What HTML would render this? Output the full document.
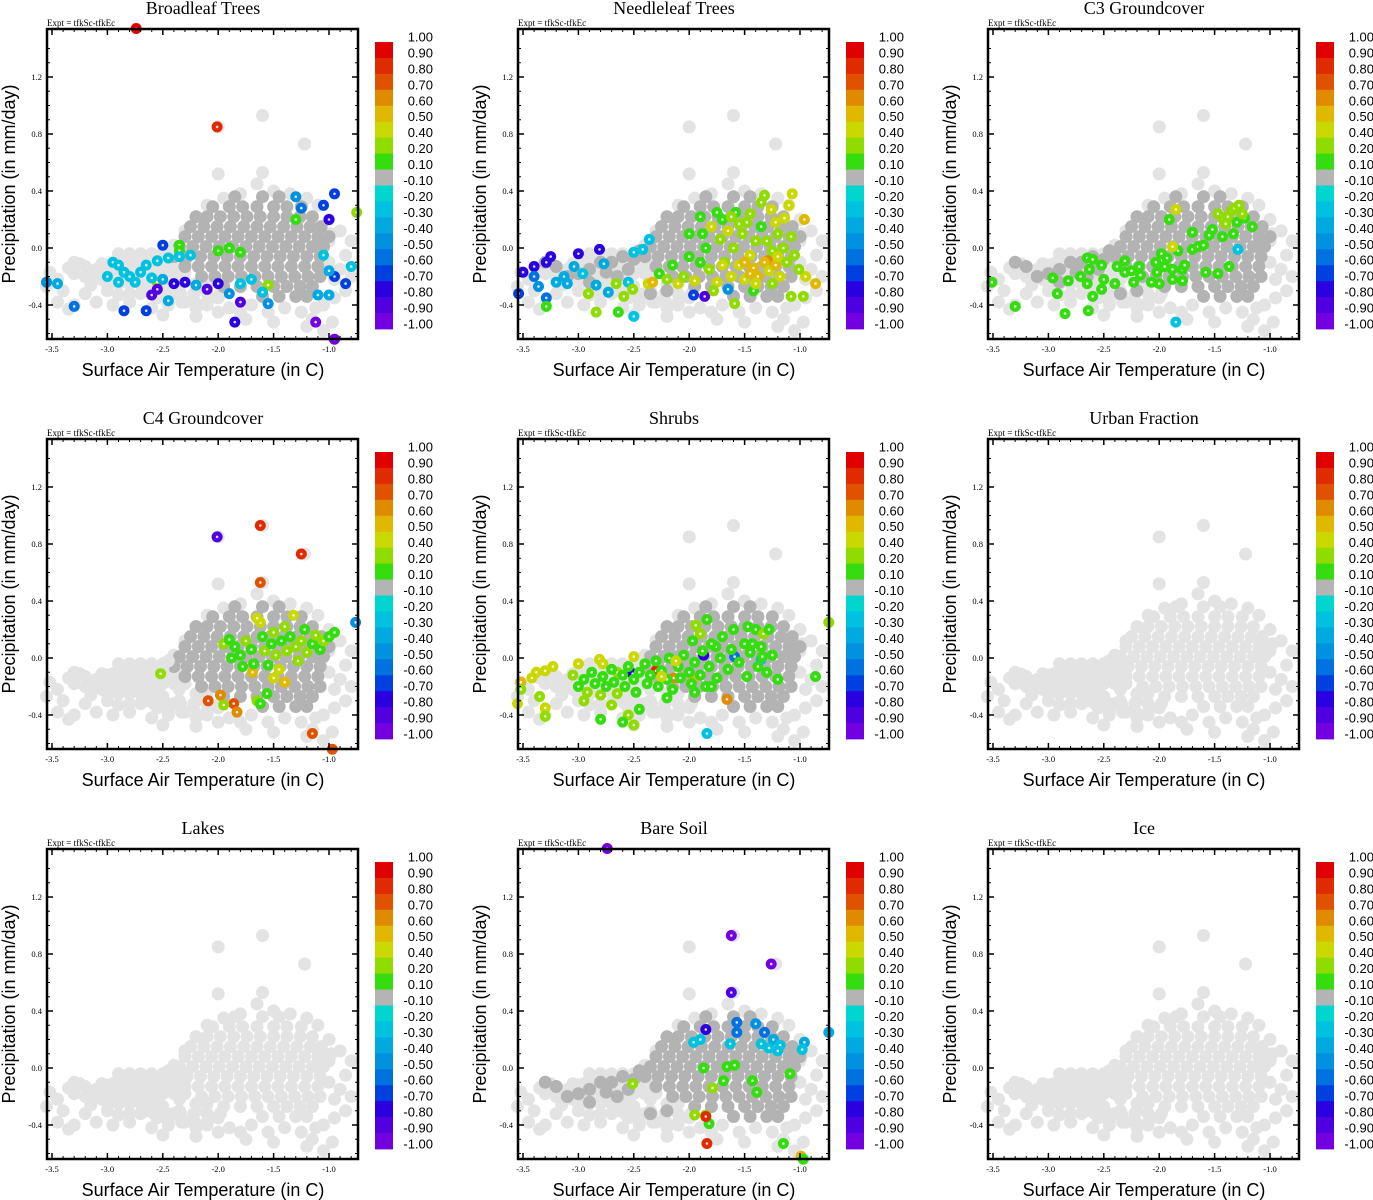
<!DOCTYPE html>
<html><head><meta charset="utf-8">
<style>
html,body{margin:0;padding:0;background:#fff;}
svg{display:block;}
.t{font-family:"Liberation Serif",serif;}
.s{font-family:"Liberation Sans",sans-serif;}
</style></head>
<body>
<svg id="fig" width="1373" height="1200" viewBox="0 0 1373 1200" xmlns="http://www.w3.org/2000/svg"></svg>
<script>
const panelTitles=["Broadleaf Trees","Needleleaf Trees","C3 Groundcover","C4 Groundcover","Shrubs","Urban Fraction","Lakes","Bare Soil","Ice"];
const xTicks=[-3.5,-3.0,-2.5,-2.0,-1.5,-1.0];
const xTickLabels=["-3.5","-3.0","-2.5","-2.0","-1.5","-1.0"];
const yTicks=[-0.4,0.0,0.4,0.8,1.2];
const yTickLabels=["-0.4","0.0","0.4","0.8","1.2"];
const cbBounds=[1.0,0.9,0.8,0.7,0.6,0.5,0.4,0.2,0.1,-0.1,-0.2,-0.3,-0.4,-0.5,-0.6,-0.7,-0.8,-0.9,-1.0];
const cbLabels=["1.00","0.90","0.80","0.70","0.60","0.50","0.40","0.20","0.10","-0.10","-0.20","-0.30","-0.40","-0.50","-0.60","-0.70","-0.80","-0.90","-1.00"];
const cbColors=["#e00000","#e02a00","#e05200","#e08a00","#e0b800","#cad800","#90dc00","#34dc10","#b4b4b4","#00d6d0","#00c2e0","#00aae0","#0092e0","#0072e0","#0040e0","#2a00e0","#5000e0","#7200e0"];
// light gray cloud (all points)
const cloudPts=[[-3.52,-0.17],[-3.45,-0.22],[-3.4,-0.3],[-3.35,-0.14],[-3.3,-0.18],[-3.25,-0.11],[-3.2,-0.2],[-3.15,-0.26],[-3.1,-0.15],[-3.05,-0.22],[-3.0,-0.3],[-3.0,-0.12],[-2.95,-0.18],[-2.9,-0.25],[-2.85,-0.08],[-2.85,-0.2],[-2.8,-0.32],[-2.75,-0.14],[-2.7,-0.22],[-2.7,-0.05],[-2.65,-0.3],[-2.6,-0.12],[-2.55,-0.2],[-2.55,-0.35],[-2.5,-0.05],[-2.5,-0.27],[-2.45,-0.15],[-2.4,-0.32],[-2.4,0.02],[-2.35,-0.22],[-3.45,-0.38],[-3.3,-0.4],[-3.1,-0.38],[-2.95,-0.4],[-2.8,-0.38],[-2.6,-0.42],[-2.45,-0.4],[-2.3,-0.38],[-2.2,-0.42],[-2.1,-0.4],[-2.0,-0.45],[-1.9,-0.42],[-1.8,-0.45],[-1.7,-0.4],[-1.55,-0.45],[-1.4,-0.42],[-1.25,-0.45],[-1.15,-0.5],[-1.05,-0.4],[-0.95,-0.35],[-0.85,-0.3],[-0.9,-0.15],[-0.85,-0.05],[-0.8,0.05],[-0.9,0.12],[-1.0,0.2],[-1.1,0.3],[-1.2,0.35],[-1.35,0.38],[-1.5,0.4],[-1.65,0.45],[-1.8,0.38],[-1.95,0.35],[-2.1,0.3],[-2.2,0.22],[-2.3,0.12],[-1.6,0.53],[-2.0,0.52],[-1.6,0.93],[-2.0,0.85],[-1.22,0.73],[-1.75,-0.5],[-1.5,-0.52],[-1.2,-0.55],[-1.05,-0.58],[-2.2,-0.48],[-2.5,-0.47],[-3.35,-0.43],[-3.55,-0.27],[-3.2,-0.32],[-2.9,-0.33],[-2.35,-0.3],[-2.0,-0.35],[-0.95,-0.22],[-0.8,-0.2],[-1.0,0.05],[-1.0,-0.1],[-0.98,0.1],[-1.12,-0.42],[-0.97,-0.52]];
// dense tail band rows of [y, xs]
const tailRows=[[-0.04,[-2.9,-2.8,-2.7,-2.6,-2.5,-2.4,-2.3]],[-0.11,[-3.05,-2.95,-2.85,-2.75,-2.65,-2.55,-2.45,-2.35]],[-0.18,[-3.1,-3.0,-2.9,-2.8,-2.7,-2.6,-2.5,-2.4,-2.3]],[-0.25,[-3.0,-2.9,-2.8,-2.7,-2.6,-2.2,-2.1]],[-0.32,[-2.7,-2.58,-2.46,-2.34,-2.22,-2.1,-1.98]],[-0.38,[-2.45,-2.33,-2.21,-2.1]]];
// dense core cloud, rows of [y, xs]
const coreRows=[[0.36,[-1.85,-1.6,-1.45]],[0.29,[-2.05,-1.9,-1.78,-1.65,-1.5,-1.38,-1.25]],[0.22,[-2.2,-2.1,-1.98,-1.86,-1.74,-1.62,-1.5,-1.38,-1.26,-1.15]],[0.15,[-2.25,-2.13,-2.01,-1.89,-1.77,-1.65,-1.53,-1.41,-1.29,-1.17,-1.07]],[0.08,[-2.3,-2.18,-2.06,-1.94,-1.82,-1.7,-1.58,-1.46,-1.34,-1.22,-1.1,-1.0]],[0.01,[-2.35,-2.23,-2.11,-1.99,-1.87,-1.75,-1.63,-1.51,-1.39,-1.27,-1.15,-1.05]],[-0.06,[-2.4,-2.28,-2.16,-2.04,-1.92,-1.8,-1.68,-1.56,-1.44,-1.32,-1.2,-1.08]],[-0.13,[-2.3,-2.18,-2.06,-1.94,-1.82,-1.7,-1.58,-1.46,-1.34,-1.22,-1.1]],[-0.2,[-2.15,-2.03,-1.91,-1.79,-1.67,-1.55,-1.43,-1.31,-1.19,-1.08]],[-0.27,[-1.95,-1.8,-1.65,-1.5,-1.38,-1.26,-1.15]],[-0.34,[-1.6,-1.45,-1.3,-1.2]]];
const tailPts=[[-3.0,-0.18],[-2.9,-0.15],[-2.8,-0.1],[-2.7,-0.1],[-2.6,-0.06],[-2.5,-0.08],[-2.45,-0.02],[-2.65,-0.2],[-2.9,-0.24],[-2.75,-0.17],[-2.55,-0.15],[-3.1,-0.2],[-3.2,-0.13],[-3.3,-0.1],[-2.35,-0.32],[-2.2,-0.3]];
// per-panel shading of core and tail (1 = dark gray, 0 = light gray)
const coreDark=[1,1,1,1,1,0,0,1,0];
const tailDark=[0,1,1,0,0,0,0,1,0];
const broadleafPts=[[-2.74,1.54,0.95],[-2.01,0.85,0.85],[-0.75,0.25,0.3],[-2.35,0.02,0.15],[-2.35,-0.02,0.15],[-2.0,-0.02,0.15],[-1.9,0.0,0.15],[-1.8,-0.03,0.15],[-1.3,0.2,0.15],[-2.55,-0.24,0.3],[-1.55,-0.26,0.3],[-0.95,0.38,-0.65],[-1.05,0.3,-0.6],[-1.3,0.36,-0.4],[-1.0,0.2,-0.7],[-1.25,0.28,-0.5],[-3.55,-0.24,-0.4],[-3.3,-0.41,-0.55],[-2.85,-0.44,-0.65],[-2.65,-0.44,-0.6],[-2.5,0.02,-0.6],[-2.5,-0.22,-0.35],[-2.45,-0.37,-0.3],[-2.6,-0.33,-0.85],[-2.55,-0.29,-0.85],[-2.1,-0.29,-0.85],[-1.8,-0.38,-0.8],[-1.85,-0.52,-0.7],[-1.12,-0.52,-0.95],[-0.95,-0.64,-0.95],[-2.0,-0.25,-0.75],[-2.4,-0.25,-0.7],[-2.3,-0.24,-0.7],[-2.2,-0.26,-0.35],[-1.55,-0.39,-0.4],[-1.6,-0.31,-0.25],[-1.9,-0.32,-0.4],[-0.85,-0.25,-0.65],[-0.95,-0.2,-0.6],[-1.0,-0.16,-0.35],[-1.0,-0.33,-0.35],[-1.05,-0.05,-0.25],[-0.8,-0.13,-0.25],[-1.1,-0.33,-0.35],[-2.95,-0.1,-0.25],[-2.9,-0.12,-0.25],[-2.85,-0.17,-0.25],[-3.0,-0.2,-0.25],[-2.8,-0.2,-0.25],[-2.7,-0.17,-0.25],[-2.65,-0.12,-0.25],[-2.55,-0.09,-0.25],[-2.45,-0.07,-0.25],[-2.35,-0.06,-0.25],[-2.25,-0.05,-0.25],[-2.75,-0.24,-0.25],[-2.9,-0.24,-0.25],[-2.6,-0.21,-0.25],[-1.7,-0.22,-0.25],[-1.8,-0.25,-0.25],[-3.45,-0.25,-0.3]];
const needlePts=[[-3.5,-0.17,-0.7],[-3.4,-0.13,-0.7],[-3.29,-0.1,-0.7],[-3.25,-0.06,-0.7],[-3.0,-0.04,-0.7],[-2.81,-0.01,-0.7],[-3.54,-0.32,-0.6],[-3.4,-0.2,-0.55],[-3.36,-0.27,-0.4],[-3.29,-0.35,-0.55],[-3.29,-0.41,0.15],[-3.2,-0.24,-0.35],[-3.13,-0.2,-0.35],[-3.1,-0.25,-0.35],[-3.04,-0.13,-0.3],[-2.96,-0.18,-0.25],[-2.77,-0.11,-0.35],[-2.84,-0.26,-0.3],[-2.73,-0.31,-0.3],[-2.5,-0.48,-0.25],[-2.55,-0.24,-0.25],[-2.5,-0.03,-0.25],[-2.42,-0.01,-0.25],[-2.36,0.06,-0.25],[-1.96,-0.33,-0.6],[-1.86,-0.34,-0.8],[-1.65,-0.29,-0.45],[-2.91,-0.32,0.3],[-2.84,-0.45,0.3],[-2.64,-0.45,0.15],[-2.66,-0.25,0.3],[-2.59,-0.34,0.3],[-2.51,-0.29,0.3],[-2.37,-0.25,0.45],[-2.33,-0.24,0.55],[-1.07,0.38,0.5],[-1.1,0.3,0.5],[-0.96,0.2,0.6],[-0.86,-0.25,0.6],[-0.95,-0.2,0.5],[-1.01,-0.15,0.3],[-1.08,-0.34,0.3],[-0.97,-0.34,0.3],[-1.59,-0.39,0.3],[-1.42,-0.3,0.15],[-1.32,0.37,0.4],[-1.35,0.32,0.3],[-1.26,0.27,0.5],[-1.22,0.18,0.5],[-1.14,0.21,0.5],[-1.29,-0.09,0.7],
[-2.27,-0.18,0.15],[-2.2,-0.22,0.3],[-2.15,-0.12,0.15],[-2.1,-0.25,0.45],[-2.05,-0.2,0.3],[-2.0,-0.06,0.15],[-1.95,-0.23,0.45],[-1.9,0.22,0.15],[-1.88,0.1,0.15],[-1.85,0.0,0.15],[-1.82,-0.15,0.3],[-1.8,0.15,0.45],[-1.75,-0.24,0.45],[-1.72,0.06,0.3],[-1.7,0.2,0.15],[-1.68,-0.1,0.3],[-1.65,0.12,0.45],[-1.62,-0.2,0.5],[-1.6,0.0,0.3],[-1.58,0.25,0.15],[-1.55,-0.12,0.5],[-1.52,0.1,0.3],[-1.5,-0.22,0.45],[-1.48,0.18,0.4],[-1.45,-0.05,0.45],[-1.42,-0.14,0.55],[-1.4,0.05,0.3],[-1.38,-0.2,0.55],[-1.35,0.15,0.15],[-1.32,-0.1,0.55],[-1.3,0.05,0.3],[-1.28,-0.16,0.5],[-1.25,-0.02,0.4],[-1.22,-0.12,0.55],[-1.2,0.1,0.3],[-1.18,-0.2,0.45],[-1.15,0.0,0.3],[-1.12,-0.1,0.4],[-1.08,0.08,0.3],[-1.05,-0.05,0.4],[-1.75,0.25,0.15],[-1.62,0.22,0.3],[-1.55,0.17,0.4],[-1.45,0.24,0.3],[-1.9,-0.1,0.15],[-2.0,0.1,0.15],[-1.78,-0.3,0.3],[-1.7,-0.12,0.5],[-1.5,-0.1,0.6],[-1.45,-0.18,0.55],[-1.4,-0.25,0.45],[-1.25,-0.25,0.3],[-1.2,-0.06,0.5]];
const c3Pts=[[-3.51,-0.24,0.15],[-3.3,-0.41,0.15],[-2.85,-0.46,0.15],[-2.64,-0.44,0.15],[-2.92,-0.32,0.15],[-2.96,-0.21,0.15],[-2.82,-0.23,0.15],[-2.71,-0.2,0.15],[-2.65,-0.25,0.15],[-2.65,-0.07,0.15],[-2.6,-0.08,0.15],[-2.63,-0.15,0.15],[-2.52,-0.12,0.15],[-2.6,-0.34,0.15],[-2.52,-0.29,0.15],[-2.5,-0.22,0.15],[-2.4,-0.25,0.15],[-2.38,-0.13,0.15],[-2.31,-0.09,0.15],[-2.31,-0.17,0.15],[-2.25,-0.16,0.15],[-2.23,-0.24,0.15],[-2.18,-0.13,0.15],[-2.17,-0.19,0.15],[-2.07,-0.24,0.15],[-2.03,-0.1,0.15],[-2.02,-0.17,0.15],[-2.0,-0.25,0.15],[-1.98,-0.04,0.15],[-1.95,-0.13,0.15],[-1.93,-0.07,0.15],[-1.91,0.2,0.15],[-1.88,-0.22,0.15],[-1.88,-0.15,0.15],[-1.83,-0.02,0.15],[-1.79,-0.23,0.15],[-1.79,-0.15,0.15],[-1.77,-0.12,0.15],[-1.7,0.11,0.15],[-1.7,-0.01,0.15],[-1.65,0.01,0.15],[-1.6,0.02,0.15],[-1.58,-0.17,0.15],[-1.55,0.09,0.15],[-1.52,0.13,0.15],[-1.47,-0.18,0.15],[-1.43,0.08,0.15],[-1.37,-0.13,0.15],[-1.33,0.1,0.15],[-1.3,0.18,0.15],[-1.23,0.21,0.15],[-1.16,0.15,0.15],[-1.47,0.24,0.3],[-1.42,0.2,0.3],[-1.38,0.22,0.3],[-1.35,0.26,0.3],[-1.32,0.28,0.3],[-1.28,0.3,0.3],[-1.25,0.24,0.3],[-1.4,0.17,0.3],[-1.85,0.27,0.45],[-1.88,0.01,0.45],[-1.85,-0.52,-0.25],[-1.29,-0.01,-0.25]];
const c4Pts=[[-2.01,0.85,-0.8],[-1.62,0.93,0.9],[-1.25,0.73,0.85],[-1.62,0.53,0.75],[-0.76,0.25,-0.4],[-2.09,-0.3,0.75],[-1.98,-0.26,0.65],[-1.86,-0.32,0.8],[-1.83,-0.38,0.65],[-1.95,-0.33,0.3],[-1.69,-0.1,0.6],[-1.4,-0.17,0.6],[-1.65,-0.3,0.3],[-1.62,-0.32,0.15],[-1.56,-0.25,0.15],[-1.15,-0.53,0.75],[-0.97,-0.64,0.75],[-2.52,-0.11,0.3],
[-1.95,0.1,0.3],[-1.9,0.13,0.15],[-1.85,0.08,0.15],[-1.88,0.0,0.15],[-1.8,0.02,0.15],[-1.75,0.12,0.3],[-1.7,0.06,0.15],[-1.68,-0.04,0.15],[-1.62,0.25,0.45],[-1.6,0.15,0.15],[-1.58,0.05,0.3],[-1.55,-0.05,0.15],[-1.52,0.1,0.15],[-1.5,0.18,0.3],[-1.48,0.02,0.3],[-1.45,-0.08,0.45],[-1.43,0.12,0.15],[-1.4,0.22,0.3],[-1.38,0.05,0.3],[-1.35,0.15,0.15],[-1.32,0.3,0.45],[-1.3,0.08,0.4],[-1.28,-0.02,0.3],[-1.25,0.12,0.3],[-1.22,0.2,0.15],[-1.2,0.04,0.4],[-1.15,0.1,0.15],[-1.12,0.16,0.3],[-1.08,0.06,0.15],[-1.05,0.12,0.3],[-1.0,0.15,0.15],[-0.95,0.18,0.15],[-1.65,0.28,0.45],[-1.78,-0.06,0.15],[-1.5,-0.14,0.45]];
const shrubPts=[[-3.52,-0.17,0.6],[-3.55,-0.32,0.5],[-3.52,-0.22,0.3],[-3.42,-0.14,0.5],[-3.38,-0.1,0.5],[-3.3,-0.09,0.5],[-3.23,-0.06,0.5],[-3.35,-0.27,0.3],[-3.3,-0.35,0.45],[-3.3,-0.41,0.3],[-3.0,-0.04,0.5],[-2.81,-0.01,0.5],[-2.78,-0.04,0.5],[-2.65,-0.1,0.3],[-2.5,0.01,0.45],[-2.3,-0.09,0.85],[-2.14,-0.14,0.65],[-1.97,-0.16,0.55],[-1.66,-0.29,0.65],[-2.51,-0.11,-0.75],[-1.87,0.02,-0.7],[-1.59,0.01,-0.5],[-1.35,-0.01,-0.25],[-1.84,-0.53,-0.25],[-1.94,0.23,0.3],[-1.9,0.17,0.3],[-1.97,0.12,0.15],[-1.84,0.27,0.15],[-1.76,0.08,0.15],[-1.47,0.22,0.15],[-1.4,0.2,0.15],[-1.33,0.17,0.4],[-1.43,0.1,0.15],[-1.34,0.01,0.15],[-1.48,-0.13,0.15],[-0.86,-0.13,0.15],[-0.74,0.25,0.3],
[-3.05,-0.12,0.3],[-3.0,-0.2,0.15],[-2.95,-0.15,0.15],[-2.92,-0.24,0.3],[-2.88,-0.1,0.15],[-2.85,-0.18,0.15],[-2.8,-0.26,0.3],[-2.78,-0.13,0.15],[-2.75,-0.2,0.15],[-2.7,-0.08,0.15],[-2.68,-0.17,0.15],[-2.65,-0.25,0.3],[-2.6,-0.12,0.15],[-2.58,-0.2,0.15],[-2.55,-0.06,0.15],[-2.5,-0.15,0.15],[-2.48,-0.24,0.15],[-2.45,-0.1,0.15],[-2.4,-0.04,0.15],[-2.38,-0.18,0.15],[-2.35,-0.12,0.15],[-2.3,-0.02,0.15],[-2.28,-0.2,0.15],[-2.25,-0.09,0.15],[-2.2,-0.15,0.15],[-2.18,0.0,0.15],[-2.15,-0.22,0.15],[-2.1,-0.06,0.15],[-2.08,-0.14,0.15],[-2.05,0.02,0.15],[-2.0,-0.1,0.15],[-1.98,-0.18,0.15],[-1.95,-0.03,0.15],[-1.9,-0.12,0.15],[-1.88,0.05,0.15],[-1.85,-0.2,0.15],[-1.82,-0.06,0.15],[-1.8,0.1,0.15],[-1.75,-0.14,0.15],[-1.72,0.0,0.15],[-1.7,0.15,0.15],[-1.65,-0.08,0.15],[-1.62,0.06,0.15],[-1.6,0.2,0.15],[-1.55,-0.03,0.15],[-1.5,0.1,0.15],[-1.45,0.04,0.15],[-1.38,-0.06,0.15],[-1.35,0.08,0.15],[-1.3,-0.1,0.15],[-1.28,0.2,0.15],[-1.25,0.02,0.15],[-1.2,-0.15,0.15],[-2.95,-0.3,0.3],[-2.7,-0.33,0.3],[-2.55,-0.4,0.3],[-2.45,-0.36,0.15],[-2.2,-0.28,0.15],[-2.6,-0.45,0.15],[-2.5,-0.47,0.3],[-2.8,-0.43,0.15],[-1.95,-0.24,0.15],[-1.8,-0.2,0.15],[-2.25,-0.13,0.5],[-2.12,-0.02,0.45]];
const bareSoilPts=[[-2.74,1.54,-0.95],[-1.62,0.93,-0.95],[-1.26,0.73,-0.9],[-1.62,0.53,-0.8],[-1.85,0.27,-0.7],[-1.57,0.32,-0.55],[-1.57,0.25,-0.5],[-1.4,0.31,-0.45],[-1.32,0.25,-0.5],[-0.74,0.25,-0.3],[-1.96,0.18,-0.25],[-1.9,0.2,-0.25],[-1.63,0.17,-0.25],[-1.24,0.2,-0.35],[-1.28,0.14,-0.25],[-1.18,0.16,-0.25],[-0.96,0.18,-0.3],[-0.98,0.13,-0.25],[-1.35,0.17,-0.25],[-1.2,0.12,-0.25],[-1.87,0.0,0.15],[-1.66,0.01,0.15],[-1.59,0.02,0.15],[-1.69,-0.09,0.15],[-1.43,-0.09,0.15],[-1.39,-0.17,0.15],[-1.09,-0.04,0.15],[-2.51,-0.11,0.3],[-1.79,-0.14,0.3],[-1.95,-0.33,0.3],[-1.85,-0.33,0.3],[-1.82,-0.39,0.15],[-1.85,-0.34,0.85],[-1.84,-0.53,0.9],[-1.15,-0.53,0.15],[-0.99,-0.62,0.55],[-0.97,-0.64,0.15]];
const coloredSets=[broadleafPts,needlePts,c3Pts,c4Pts,shrubPts,[],[],bareSoilPts,[]];

const NS="http://www.w3.org/2000/svg";
const svg=document.getElementById('fig');
function el(tag,attrs,parent,txt){const e=document.createElementNS(NS,tag);for(const k in attrs)e.setAttribute(k,attrs[k]);if(txt!==undefined)e.textContent=txt;(parent||svg).appendChild(e);return e;}
function colorFor(v){for(let i=0;i<cbColors.length;i++){if(v<=cbBounds[i]&&v>cbBounds[i+1])return cbColors[i];}return v>0?cbColors[0]:cbColors[17];}
const LIGHT="#e3e3e3",DARK="#b3b3b3";

for(let p=0;p<9;p++){
  const c=p%3,r=Math.floor(p/3);
  const ox=Math.round(c*470.6),oy=r*410;
  const sx=x=>ox+52+(x+3.5)*110.8;
  const sy=y=>oy+248-y*142.5;
  const g=el('g',{});
  
  
  const tt=el('text',{x:ox+203,y:oy+14,'text-anchor':'middle','font-size':'18',class:'t'},g,panelTitles[p]);
  
  const ex=el('text',{x:ox+47,y:oy+26,'font-size':'9',class:'t'},g,'Expt = tfkSc-tfkEc');
  
  const pts=el('g',{},g);
  
  function gdot(x,y,col){
    const cc=el('circle',{cx:sx(x).toFixed(1),cy:sy(y).toFixed(1),r:6.5,fill:col},pts);
    
  }
  function dot(x,y,col){
    const cc=el('circle',{cx:sx(x).toFixed(1),cy:sy(y).toFixed(1),r:5.5,fill:col},pts);
    
    el('circle',{cx:sx(x).toFixed(1),cy:sy(y).toFixed(1),r:1.3,fill:'#fff','fill-opacity':0.85},pts);
  }
  cloudPts.forEach(q=>gdot(q[0],q[1],LIGHT));
  tailRows.forEach(row=>row[1].forEach(x=>gdot(x,row[0],LIGHT)));
  const coreCol=coreDark[p]?DARK:LIGHT;
  coreRows.forEach(row=>row[1].forEach(x=>gdot(x,row[0],coreCol)));
  const tailCol=tailDark[p]?DARK:LIGHT;
  tailPts.forEach(q=>gdot(q[0],q[1],tailCol));
  coloredSets[p].forEach(q=>dot(q[0],q[1],colorFor(q[2])));
  const bx=el('rect',{x:ox+47,y:oy+29,width:311,height:310,fill:'none',stroke:'#000','stroke-width':2.5},g);
  
  for(let v=-3.5;v<=-0.75;v+=0.1){const X=sx(v);el('line',{x1:X,y1:oy+339,x2:X,y2:oy+336,stroke:'#000','stroke-width':1},g);el('line',{x1:X,y1:oy+29,x2:X,y2:oy+32,stroke:'#000','stroke-width':1},g);}
  for(let v=-0.6;v<=1.5;v+=0.1){const Y=sy(v);if(Y<oy+30||Y>oy+338)continue;el('line',{x1:ox+47,y1:Y,x2:ox+50,y2:Y,stroke:'#000','stroke-width':1},g);el('line',{x1:ox+358,y1:Y,x2:ox+355,y2:Y,stroke:'#000','stroke-width':1},g);}
  xTicks.forEach((v,i)=>{const X=sx(v);el('line',{x1:X,y1:oy+339,x2:X,y2:oy+333,stroke:'#000','stroke-width':1.5},g);el('line',{x1:X,y1:oy+29,x2:X,y2:oy+35,stroke:'#000','stroke-width':1.5},g);
    const t=el('text',{x:X,y:oy+352,'text-anchor':'middle','font-size':'8.5',class:'t'},g,xTickLabels[i]);});
  yTicks.forEach((v,i)=>{const Y=sy(v);el('line',{x1:ox+47,y1:Y,x2:ox+53,y2:Y,stroke:'#000','stroke-width':1.5},g);el('line',{x1:ox+358,y1:Y,x2:ox+352,y2:Y,stroke:'#000','stroke-width':1.5},g);
    const t=el('text',{x:ox+42,y:Y+3,'text-anchor':'end','font-size':'8.5',class:'t'},g,yTickLabels[i]);});
  const xt=el('text',{x:ox+203,y:oy+376,'text-anchor':'middle','font-size':'18',class:'s'},g,'Surface Air Temperature (in C)');
  
  const yt=el('text',{x:0,y:0,'text-anchor':'middle','font-size':'18',class:'s',transform:`translate(${ox+15},${oy+184}) rotate(-90)`},g,'Precipitation (in mm/day)');
  
  const cb=el('g',{},g);
  
  const top=oy+42,h=(329-42)/18;
  cbColors.forEach((col,i)=>{const rc=el('rect',{x:ox+375,y:(top+i*h).toFixed(2),width:18,height:(h+0.4).toFixed(2),fill:col},cb);});
  cbLabels.forEach((lab,i)=>{const t=el('text',{x:ox+433,y:(oy+42+i*h-0.5).toFixed(1),'text-anchor':'end','font-size':'13',class:'s'},cb,lab);});
}
</script>
</body></html>
